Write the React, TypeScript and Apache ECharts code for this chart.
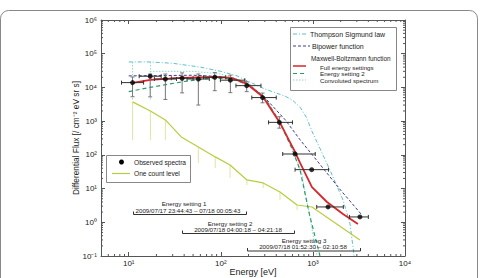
import React, { useEffect, useRef } from 'react';
import * as echarts from 'echarts';

// Observed spectra (energy in eV, flux)
const obsEnergy = [11.0, 17.1, 25, 38, 57, 86, 127, 191, 284, 432, 640, 970, 1460, 3240];
const obsFlux = [13900, 21500, 17800, 18700, 17800, 20000, 16400, 11300, 5000, 920, 106, 36.4, 2.85, 1.44];
const obsEnergyLow = [8.35, 13, 19, 29, 43, 65, 99, 146, 217, 330, 470, 640, 1100, 2500];
const obsEnergyHigh = [14.5, 22.5, 33, 50, 75, 113, 182, 273, 400, 600, 1060, 1480, 2140, 4000];
const obsFluxLow = [5300, 5250, 4400, 6900, 3000, 8000, 7000, 7500, 3500, 620, 106, 36.4, 2.85, 1.44];
const obsFluxHigh = [20400, 25000, 25000, 27000, 25000, 27600, 23000, 14800, 6800, 1350, 106, 36.4, 2.85, 1.44];

// One count level
const countEnergy = [11.0, 17.2, 25, 37.2, 57, 87, 126, 192, 288, 439, 673, 977, 3240];
const countFlux = [3720, 2010, 1085, 340, 171, 87, 50, 18, 14.7, 7.9, 3.26, 2.84, 0.3];
const countErrEnergy = [11.0, 17.2, 25, 57, 87, 126, 192, 288, 439, 673];
const countErrTop = [3720, 2010, 1085, 171, 87, 50, 18, 14.7, 7.9, 3.26];
const countErrBottom = [277, 277, 277, 57.5, 40.8, 20.7, 12.8, 10.4, 4.6, 2.3];

// Model curves
const fullEnergy = [11, 17.2, 36.4, 87, 131, 192, 288, 439, 640, 725, 977, 1422, 2120, 3083];
const fullFlux = [13700, 16700, 19100, 20500, 19100, 12700, 5220, 885, 122, 57.5, 11.1, 4.0, 1.76, 0.89];

const setting2Energy = [10, 17, 40, 80, 130, 200, 300, 440, 600, 725, 920, 1193];
const setting2Flux = [7500, 10000, 15000, 19000, 18000, 12000, 5000, 900, 140, 35.6, 1.65, 0.1];

const bipowerEnergy = [10, 50, 100, 150, 200, 300, 500, 725, 1000, 2000, 3400];
const bipowerFlux = [22000, 23000, 21000, 17000, 12500, 5000, 1100, 280, 95, 9, 1.65];

const thompsonEnergy = [10, 17, 30, 60, 100, 150, 200, 300, 500, 600, 725, 850, 977, 1200, 1534, 2120, 2524, 2800];
const thompsonFlux = [57000, 57000, 52000, 40000, 30000, 22000, 15000, 9000, 5500, 4200, 2600, 1300, 500, 150, 35, 4.6, 0.95, 0.1];

const convolutedEnergy = [17, 50, 100, 200, 300, 450, 600, 750, 850, 950, 1100];
const convolutedFlux = [30000, 30000, 25000, 14000, 5000, 900, 150, 30, 5, 1, 0.1];
const convolutedStepEnergy = [11.0, 17.2];
const convolutedStepTop = [57000, 57000];
const convolutedStepBottom = [4250, 4250];

const xMin = 5;
const xMax = 10000;
const yMin = 0.1;
const yMax = 1000000;

const xMinorTicks: number[] = [];
for (let d = 1; d <= 1000; d *= 10) for (let k = 2; k <= 9; k++) { const v = k * d; if (v > xMin && v < xMax) xMinorTicks.push(v); }
const yMinorTicks: number[] = [];
for (let d = 0.1; d <= 100000; d *= 10) for (let k = 2; k <= 9; k++) { const v = k * d; if (v > yMin && v < yMax) yMinorTicks.push(v); }

const FONT = '"Liberation Sans", Arial, Helvetica, sans-serif';
const SUP: Record<string, string> = { '-': '⁻', '0': '⁰', '1': '¹', '2': '²', '3': '³', '4': '⁴', '5': '⁵', '6': '⁶', '7': '⁷', '8': '⁸', '9': '⁹' };
const powLabel = (v: number) => {
  const l = Math.log10(v);
  if (Math.abs(l - Math.round(l)) > 1e-6) return '';
  return '10' + String(Math.round(l)).split('').map((c) => SUP[c]).join('');
};

const C_RED = '#d9262a';
const C_GREEN = '#2a9a6e';
const C_NAVY = '#3c3c8c';
const C_CYAN = '#5cbfca';
const C_CONV = '#8ed9c6';
const C_YEL = '#b9cc3e';
const C_AXIS = '#555';

export default function App() {
  const ref = useRef<HTMLDivElement>(null);
  useEffect(() => {
    if (!ref.current) return;
    const chart = echarts.init(ref.current, undefined, { renderer: 'svg' });
    const zip = (a: number[], b: number[]) => a.map((v, i) => [v, b[i]]);
    const lineSeries = (name: string, xs: number[], ys: number[], color: string, type: any, width: number, z = 2) => ({
      name, type: 'line', data: zip(xs, ys), showSymbol: false, symbol: 'none', z,
      lineStyle: { color, type, width }, silent: true,
    });
    const axisCommon = {
      type: 'log', logBase: 10,
      axisLine: { show: true, lineStyle: { color: C_AXIS, width: 1 } },
      axisTick: { show: true, inside: true, length: 4, lineStyle: { color: C_AXIS } },
      splitLine: { show: false },
      nameMoveOverlap: false,
    };
    const tickSeries = (data: number[][], dir: 'x' | 'y') => ({
      type: 'custom', silent: true, z: 5, data,
      renderItem: (params: any, api: any) => {
        const cs = params.coordSys;
        const p = api.coord([api.value(0), api.value(1)]);
        const style = { stroke: C_AXIS, lineWidth: 1 };
        if (dir === 'x') {
          return { type: 'group', children: [
            { type: 'line', shape: { x1: p[0], y1: cs.y + cs.height, x2: p[0], y2: cs.y + cs.height - 2 }, style },
            { type: 'line', shape: { x1: p[0], y1: cs.y, x2: p[0], y2: cs.y + 2 }, style },
          ] };
        }
        return { type: 'group', children: [
          { type: 'line', shape: { x1: cs.x, y1: p[1], x2: cs.x + 2, y2: p[1] }, style },
          { type: 'line', shape: { x1: cs.x + cs.width, y1: p[1], x2: cs.x + cs.width - 2, y2: p[1] }, style },
        ] };
      },
    });
    const obsData = obsEnergy.map((e, i) => [e, obsFlux[i], obsEnergyLow[i], obsEnergyHigh[i], obsFluxLow[i], obsFluxHigh[i]]);
    const countErrData = countErrEnergy.map((e, i) => [e, countErrTop[i], countErrBottom[i]]);
    const stepData = convolutedStepEnergy.map((e, i) => [e, convolutedStepTop[i], convolutedStepBottom[i]]);

    const Z = 100;
    const txt = (x: number, y: number, text: string, size: number, align = 'left') => ({
      type: 'text', x, y, silent: true, z: Z + 2,
      style: { text, fontSize: size, lineHeight: size, fontFamily: FONT, fill: '#222', align, verticalAlign: 'middle' },
    });
    const seg = (x1: number, y1: number, x2: number, y2: number, stroke: string, lineDash: any = null, lineWidth = 1) => ({
      type: 'line', silent: true, z: Z + 2, shape: { x1, y1, x2, y2 }, style: { stroke, lineWidth, lineDash },
    });
    const bracket = (x1: number, x2: number, y: number) => ({
      type: 'polyline', silent: true, z: Z + 2, shape: { points: [[x1, y - 3], [x1, y], [x2, y], [x2, y - 3]] },
      style: { stroke: '#333', lineWidth: 1, fill: 'none' },
    });

    chart.setOption({
      animation: false,
      grid: { left: 101, right: 77, top: 20, bottom: 22, containLabel: false, outerBoundsMode: 'none' },
      textStyle: { fontFamily: FONT },
      xAxis: [
        { ...axisCommon, min: xMin, max: xMax, position: 'bottom',
          name: 'Energy [eV]', nameLocation: 'middle', nameGap: 11,
          nameTextStyle: { fontSize: 9, color: '#222', fontFamily: FONT },
          axisLabel: { formatter: powLabel, fontSize: 8, color: '#222', margin: 3, fontFamily: FONT } },
        { ...axisCommon, min: xMin, max: xMax, position: 'top', axisLabel: { show: false } },
      ],
      yAxis: [
        { ...axisCommon, min: yMin, max: yMax, position: 'left',
          name: 'Differential Flux [/ cm⁻² eV sr s]', nameLocation: 'middle', nameGap: 21,
          nameTextStyle: { fontSize: 8.3, color: '#222', fontFamily: FONT },
          axisLabel: { formatter: powLabel, fontSize: 8, color: '#222', margin: 4, fontFamily: FONT } },
        { ...axisCommon, min: yMin, max: yMax, position: 'right', axisLabel: { show: false } },
      ],
      series: [
        tickSeries(xMinorTicks.map((v) => [v, 1]), 'x'),
        tickSeries(yMinorTicks.map((v) => [10, v]), 'y'),
        lineSeries('Thompson Sigmund law', thompsonEnergy, thompsonFlux, C_CYAN, [4, 2, 1, 2], 1),
        lineSeries('Convoluted spectrum', convolutedEnergy, convolutedFlux, C_CONV, [1.5, 1.5], 1),
        {
          type: 'custom', silent: true, z: 1, data: stepData,
          renderItem: (params: any, api: any) => {
            const a = api.coord([api.value(0), api.value(1)]);
            const b = api.coord([api.value(0), api.value(2)]);
            return { type: 'line', shape: { x1: a[0], y1: a[1], x2: b[0], y2: b[1] }, style: { stroke: C_CONV, lineWidth: 1, lineDash: [1.5, 1.5] } };
          },
        },
        lineSeries('Bipower function', bipowerEnergy, bipowerFlux, C_NAVY, [3, 2], 1),
        lineSeries('One count level', countEnergy, countFlux, C_YEL, 'solid', 1.2),
        {
          type: 'custom', silent: true, z: 1, data: countErrData,
          renderItem: (params: any, api: any) => {
            const a = api.coord([api.value(0), api.value(1)]);
            const b = api.coord([api.value(0), api.value(2)]);
            return { type: 'line', shape: { x1: a[0], y1: a[1], x2: b[0], y2: b[1] }, style: { stroke: '#dfe6a0', lineWidth: 1 } };
          },
        },
        lineSeries('Energy setting 2', setting2Energy, setting2Flux, C_GREEN, [4, 3], 1.2),
        lineSeries('Full energy settings', fullEnergy, fullFlux, C_RED, 'solid', 1.8, 3),
        {
          type: 'custom', silent: true, z: 4, data: obsData,
          renderItem: (params: any, api: any) => {
            const c = api.coord([api.value(0), api.value(1)]);
            const xl = api.coord([api.value(2), api.value(1)]);
            const xh = api.coord([api.value(3), api.value(1)]);
            const yl = api.coord([api.value(0), api.value(4)]);
            const yh = api.coord([api.value(0), api.value(5)]);
            const sh = { stroke: '#333', lineWidth: 1 };
            const sv = { stroke: '#777', lineWidth: 1 };
            const ch: any[] = [
              { type: 'line', shape: { x1: xl[0], y1: c[1], x2: xh[0], y2: c[1] }, style: sh },
              { type: 'line', shape: { x1: xl[0], y1: c[1] - 2, x2: xl[0], y2: c[1] + 2 }, style: sh },
              { type: 'line', shape: { x1: xh[0], y1: c[1] - 2, x2: xh[0], y2: c[1] + 2 }, style: sh },
            ];
            if (Math.abs(yl[1] - yh[1]) > 1) {
              ch.push(
                { type: 'line', shape: { x1: c[0], y1: yl[1], x2: c[0], y2: yh[1] }, style: sv },
                { type: 'line', shape: { x1: c[0] - 2, y1: yl[1], x2: c[0] + 2, y2: yl[1] }, style: sv },
                { type: 'line', shape: { x1: c[0] - 2, y1: yh[1], x2: c[0] + 2, y2: yh[1] }, style: sv },
              );
            }
            return { type: 'group', children: ch };
          },
        },
        {
          name: 'Observed spectra', type: 'scatter', z: 6, silent: true,
          data: zip(obsEnergy, obsFlux), symbol: 'circle', symbolSize: 5,
          itemStyle: { color: '#000' },
        },
      ],
      graphic: [
        { type: 'rect', silent: true, z: Z, shape: { x: 0.5, y: 10.5, width: 477, height: 300, r: 8 }, style: { fill: 'none', stroke: '#888', lineWidth: 1 } },
        // legend 1
        { type: 'rect', silent: true, z: Z + 1, shape: { x: 290.5, y: 27.5, width: 106, height: 63 }, style: { fill: '#fff', stroke: '#888', lineWidth: 1 } },
        seg(293, 34, 307, 34, C_CYAN, [4, 2, 1, 2]),
        txt(310, 34, 'Thompson Sigmund law', 7),
        seg(293, 46, 310, 46, C_NAVY, [3, 2]),
        txt(312, 46, 'Bipower function', 7),
        txt(311, 58, 'Maxwell-Boltzmann function', 6.4),
        seg(293, 66, 306, 66, C_RED, null, 1.5),
        txt(320, 67, 'Full energy settings', 6.2),
        seg(293, 73.5, 306, 73.5, C_GREEN, [4, 3]),
        txt(320, 73.5, 'Energy setting 2', 6.2),
        seg(293, 80, 306, 80, C_CONV, [1.5, 1.5]),
        txt(320, 80, 'Convoluted spectrum', 6.2),
        // legend 2
        { type: 'rect', silent: true, z: Z + 1, shape: { x: 106.5, y: 155.5, width: 84, height: 27 }, style: { fill: '#fff', stroke: '#888', lineWidth: 1 } },
        { type: 'circle', silent: true, z: Z + 2, shape: { cx: 121.5, cy: 162, r: 2.5 }, style: { fill: '#000' } },
        txt(134, 162, 'Observed spectra', 6.6),
        seg(112, 173.5, 130, 173.5, C_YEL, null, 1.2),
        txt(134, 173.5, 'One count level', 6.6),
        // energy setting annotations
        txt(184, 203, 'Energy setting 1', 6.2, 'center'),
        txt(188, 210, '2009/07/17 23:44:43 – 07/18 00:05:43', 6.2, 'center'),
        bracket(133.5, 246.5, 214.5),
        txt(230, 223, 'Energy setting 2', 6.2, 'center'),
        txt(238, 229.5, '2009/07/18 04:00:18 – 04:21:18', 6.2, 'center'),
        bracket(182.5, 294.5, 233.5),
        txt(304, 240, 'Energy setting 3', 6.2, 'center'),
        txt(303, 246.5, '2009/07/18 01:52:30 – 02:10:58', 6.2, 'center'),
        bracket(247.5, 360.5, 251),
      ],
    });
    return () => chart.dispose();
  }, []);
  return <div ref={ref} style={{ position: 'absolute', left: 0, top: 0, width: 482, height: 278 }} />;
}
